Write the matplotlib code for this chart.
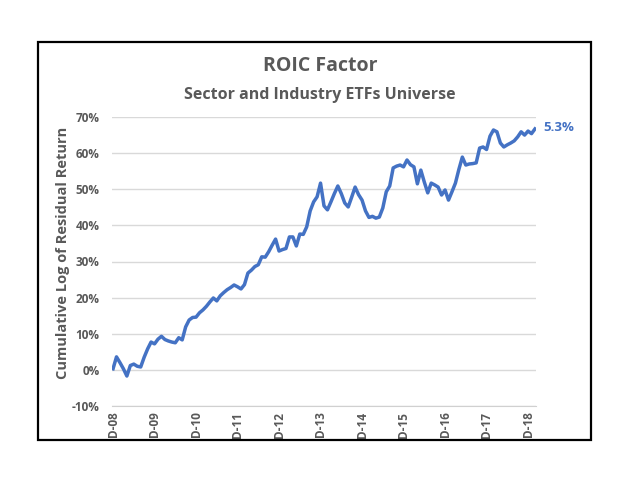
import matplotlib
matplotlib.use('Agg')
import matplotlib.pyplot as plt
from matplotlib.patches import Rectangle

# cumulative log of residual return (%), monthly from Dec-2008
cum_ret = [0.3, 3.6, 2.0, 0.3, -1.7, 1.2, 1.6, 1.0, 0.8, 3.5,
           5.8, 7.7, 7.2, 8.5, 9.3, 8.4, 8.0, 7.7, 7.5, 8.9,
           8.3, 11.9, 13.8, 14.5, 14.6, 15.8, 16.6, 17.6, 18.8, 19.9,
           19.1, 20.5, 21.4, 22.2, 22.8, 23.5, 23.0, 22.4, 23.6, 26.8,
           27.6, 28.6, 29.1, 31.3, 31.2, 32.7, 34.5, 36.2, 32.9, 33.3,
           33.6, 36.8, 36.8, 34.3, 37.6, 37.5, 39.6, 44.0, 46.5, 47.9,
           51.7, 45.4, 44.3, 46.5, 48.8, 50.9, 48.8, 46.2, 45.1, 47.8,
           50.6, 48.5, 47.0, 44.0, 42.2, 42.5, 42.0, 42.3, 44.8, 49.3,
           50.9, 55.9, 56.4, 56.7, 56.2, 58.1, 56.8, 56.2, 51.5, 55.3,
           52.0, 49.0, 51.7, 51.2, 50.6, 48.4, 49.8, 47.0, 49.3, 51.7,
           55.5, 58.9, 56.7, 57.0, 57.1, 57.3, 61.4, 61.7, 61.0, 64.7,
           66.4, 65.9, 62.8, 61.7, 62.3, 62.8, 63.4, 64.5, 65.9, 65.0,
           66.1, 65.4, 66.7]
tick_labels = ['D-08', 'D-09', 'D-10', 'D-11', 'D-12', 'D-13', 'D-14',
               'D-15', 'D-16', 'D-17', 'D-18']
y_ticks = [-10, 0, 10, 20, 30, 40, 50, 60, 70]
end_label = '5.3%'

plt.rcParams['font.family'] = ['Open Sans', 'DejaVu Sans']
gray = '#595959'
blue = '#4472C4'

fig = plt.figure(figsize=(6.4, 4.95), dpi=100)
fig.patches.append(Rectangle((38/640, 1-440/495), 553/640, 398/495, transform=fig.transFigure,
                             fill=False, edgecolor='black', linewidth=1.6))

ax = fig.add_axes([112/640, 1-406/495, 424/640, 289/495])
x = list(range(len(cum_ret)))
ax.plot(x, cum_ret, color=blue, linewidth=2.5, solid_joinstyle='round')
ax.set_xlim(-0.3, 122.3)
ax.set_ylim(-10, 70)
ax.set_yticks(y_ticks)
ax.set_yticklabels([f'{v}%' for v in y_ticks], fontsize=8.5, fontweight='bold', color=gray)
ax.set_xticks(x[::12])
ax.set_xticklabels(tick_labels, rotation=90, fontsize=8.5, fontweight='bold', color=gray)
ax.tick_params(axis='y', length=0, pad=9)
ax.tick_params(axis='x', length=0, pad=4)
ax.grid(axis='y', color='#d9d9d9', linewidth=1)
ax.set_axisbelow(True)
for s in ['top', 'right', 'left']:
    ax.spines[s].set_visible(False)
ax.spines['bottom'].set_color('#d0d0d0')
ax.set_ylabel('Cumulative Log of Residual Return', fontsize=10.5, fontweight='bold', color=gray)
ax.yaxis.set_label_coords(-0.1, 0.53)

ax.annotate(end_label, (x[-1], cum_ret[-1]), xytext=(6, 1), textcoords='offset points',
            va='center', ha='left', fontsize=9.5, fontweight='bold', color=blue)

fig.text(0.5, 1-66/495, 'ROIC Factor', ha='center', va='center', fontsize=14,
         fontweight='bold', color=gray)
fig.text(0.5, 1-95/495, 'Sector and Industry ETFs Universe', ha='center', va='center',
         fontsize=11.5, fontweight='bold', color=gray)

fig.savefig('out.png', dpi=100)
